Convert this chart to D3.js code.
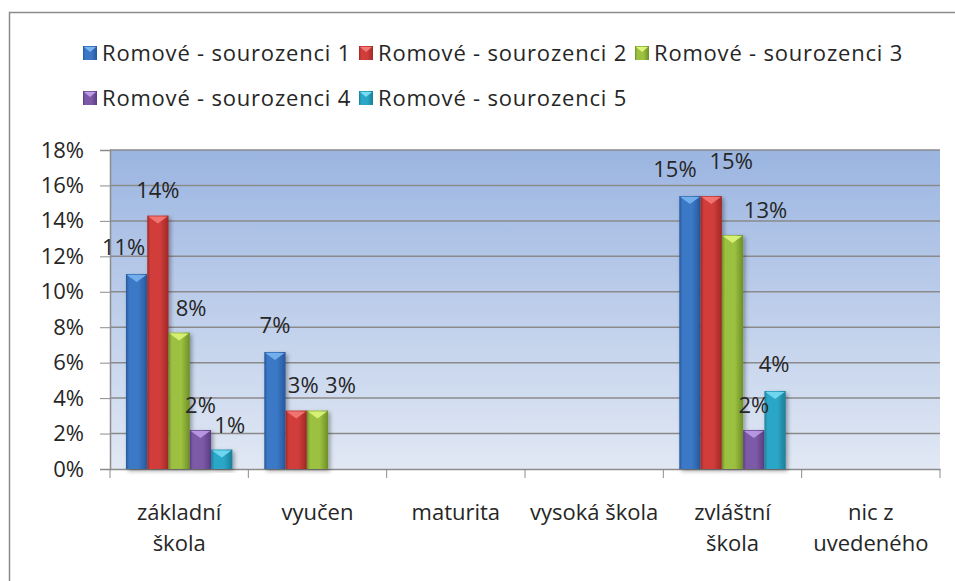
<!DOCTYPE html>
<html>
<head>
<meta charset="utf-8">
<script src="https://cdn.jsdelivr.net/npm/d3@7"></script>
<style>
  body { margin: 0; background: #fff; }
  svg { display: block; }
  text { font-family: "Open Sans", Lato, sans-serif; fill: #262626; }
</style>
</head>
<body>
<div id="chart"></div>
<script>
// categories and series (values in %)
const categories = ['základní škola', 'vyučen', 'maturita', 'vysoká škola', 'zvláštní škola', 'nic z uvedeného'];
const categoryLines = [['základní', 'škola'], ['vyučen'], ['maturita'], ['vysoká škola'], ['zvláštní', 'škola'], ['nic z', 'uvedeného']];
const seriesNames = ['Romové - sourozenci 1', 'Romové - sourozenci 2', 'Romové - sourozenci 3', 'Romové - sourozenci 4', 'Romové - sourozenci 5'];
const sourozenci1 = [11.0, 6.6, null, null, 15.4, null];
const sourozenci2 = [14.3, 3.3, null, null, 15.4, null];
const sourozenci3 = [7.7, 3.3, null, null, 13.2, null];
const sourozenci4 = [2.2, null, null, null, 2.2, null];
const sourozenci5 = [1.1, null, null, null, 4.4, null];
const yTicks = [0, 2, 4, 6, 8, 10, 12, 14, 16, 18];

const seriesValues = [sourozenci1, sourozenci2, sourozenci3, sourozenci4, sourozenci5];

// Office-like bevel colours: base, dark edge, light highlight
const PALETTE = [
    { base: '#3a78c6', dark: '#28589a', light: '#7ab4f0' },
    { base: '#d03d3b', dark: '#a02826', light: '#f47a78' },
    { base: '#9cc13f', dark: '#6d8f28', light: '#dcf57a' },
    { base: '#7d5aa8', dark: '#5a3d82', light: '#bd9ce6' },
    { base: '#2ba7c7', dark: '#1c7e98', light: '#78dcf2' }
];

// hand-placed data labels in the original (px nudges from bar-top centre)
const labelNudge = {
    '0|0': [-13, -19], '0|1': [0, -18], '0|2': [12, -17], '0|3': [0, -17], '0|4': [8, -17],
    '1|0': [0, -19], '1|1': [7, -18], '1|2': [23, -18],
    '4|0': [-15, -19], '4|1': [20, -27], '4|2': [33, -17], '4|3': [0, -17], '4|4': [-1, -19]
};

const W = 955, H = 581;
const FONT = '22px';
const plot = { left: 110, right: 940, top: 150, bottom: 469 };

const svg = d3.select('#chart').append('svg').attr('width', W).attr('height', H);
const defs = svg.append('defs');

const bg = defs.append('linearGradient').attr('id', 'plotBg')
    .attr('x1', 0).attr('y1', 0).attr('x2', 0).attr('y2', 1);
bg.append('stop').attr('offset', 0).attr('stop-color', '#9bb5e1');
bg.append('stop').attr('offset', 1).attr('stop-color', '#e1e8f4');

PALETTE.forEach((c, i) => {
    const g = defs.append('linearGradient').attr('id', 'bar' + i)
        .attr('x1', 0).attr('y1', 0).attr('x2', 1).attr('y2', 0);
    g.append('stop').attr('offset', 0).attr('stop-color', c.dark);
    g.append('stop').attr('offset', 0.15).attr('stop-color', c.base);
    g.append('stop').attr('offset', 0.6).attr('stop-color', c.base);
    g.append('stop').attr('offset', 1).attr('stop-color', c.dark);
});

const shadow = defs.append('filter').attr('id', 'shadow')
    .attr('x', '-30%').attr('y', '-10%').attr('width', '160%').attr('height', '130%');
shadow.append('feDropShadow').attr('dx', 2).attr('dy', 2).attr('stdDeviation', 2)
    .attr('flood-color', '#000').attr('flood-opacity', 0.35);

// outer chart frame
svg.append('rect')
    .attr('x', 9.5).attr('y', 12.5).attr('width', 980).attr('height', 620)
    .attr('fill', 'none').attr('stroke', '#8c8c8c').attr('stroke-width', 1.5);

// scales
const x0 = d3.scaleBand().domain(categories).range([plot.left, plot.right]).padding(0);
const gap = x0.bandwidth() * 1.5 / 6.5;
const x1 = d3.scaleBand().domain(d3.range(seriesNames.length))
    .range([gap / 2, x0.bandwidth() - gap / 2]).padding(0);
const y = d3.scaleLinear().domain([0, 18]).range([plot.bottom, plot.top]);

// plot area background
svg.append('rect')
    .attr('x', plot.left).attr('y', plot.top)
    .attr('width', plot.right - plot.left).attr('height', plot.bottom - plot.top)
    .attr('fill', 'url(#plotBg)');

// gridlines
svg.append('g').selectAll('line').data(yTicks.filter(d => d > 0)).join('line')
    .attr('x1', plot.left).attr('x2', plot.right)
    .attr('y1', d => y(d)).attr('y2', d => y(d))
    .attr('stroke', '#8a8a8a').attr('stroke-width', 1.5);

// y axis
const yAxis = svg.append('g').attr('transform', `translate(${plot.left},0)`)
    .call(d3.axisLeft(y).tickValues(yTicks).tickSize(10).tickPadding(16).tickFormat(d => d + '%'));
yAxis.attr('font-family', null);
yAxis.selectAll('text').style('font-size', FONT).attr('fill', '#262626');

// x axis: ticks at category boundaries
const xAxis = svg.append('g').attr('transform', `translate(0,${plot.bottom})`)
    .call(d3.axisBottom(x0).tickSize(0).tickFormat(''));
xAxis.selectAll('.tick').remove();
xAxis.selectAll('line.bound').data(d3.range(categories.length + 1)).join('line')
    .attr('class', 'bound')
    .attr('x1', i => plot.left + i * x0.step()).attr('x2', i => plot.left + i * x0.step())
    .attr('y1', 0).attr('y2', 9)
    .attr('stroke', '#8c8c8c');

svg.selectAll('.domain').attr('stroke', '#8c8c8c').attr('stroke-width', 1.5);
svg.selectAll('.tick line').attr('stroke', '#8c8c8c');

// category labels
const catLabels = svg.append('g').selectAll('text').data(categories).join('text')
    .attr('x', d => x0(d) + x0.bandwidth() / 2)
    .attr('y', 520)
    .attr('text-anchor', 'middle')
    .style('font-size', FONT);
catLabels.selectAll('tspan').data((d, i) => categoryLines[i]).join('tspan')
    .attr('x', function () { return this.parentNode.getAttribute('x'); })
    .attr('dy', (d, i) => i === 0 ? 0 : 31)
    .text(d => d);

// bars
const barData = [];
seriesValues.forEach((vals, s) => {
    vals.forEach((v, c) => {
        if (v !== null) barData.push({ s, c, v });
    });
});

const bars = svg.append('g').selectAll('g').data(barData).join('g')
    .attr('transform', d => `translate(${x0(categories[d.c]) + x1(d.s)},0)`);

bars.append('rect')
    .attr('y', d => y(d.v))
    .attr('width', x1.bandwidth())
    .attr('height', d => y(0) - y(d.v))
    .attr('fill', d => `url(#bar${d.s})`)
    .attr('filter', 'url(#shadow)');

bars.append('path')
    .attr('d', d => {
        const w = x1.bandwidth(), t = y(d.v);
        return `M1,${t + 1}L${w - 1},${t + 1}L${w / 2},${t + 8}Z`;
    })
    .attr('fill', d => PALETTE[d.s].light)
    .attr('opacity', 0.9);

// data labels
svg.append('g').selectAll('text').data(barData).join('text')
    .attr('x', d => x0(categories[d.c]) + x1(d.s) + x1.bandwidth() / 2 + (labelNudge[d.c + '|' + d.s] || [0, -18])[0])
    .attr('y', d => y(d.v) + (labelNudge[d.c + '|' + d.s] || [0, -18])[1])
    .attr('text-anchor', 'middle')
    .style('font-size', FONT)
    .text(d => Math.round(d.v) + '%');

// legend, 3 items per row
const legend = svg.append('g').selectAll('g').data(seriesNames).join('g')
    .attr('transform', (d, i) => `translate(${83 + (i % 3) * 276},${i < 3 ? 53 : 98})`);

legend.append('rect')
    .attr('x', 0).attr('y', -7).attr('width', 14).attr('height', 14)
    .attr('fill', (d, i) => `url(#bar${i})`);
legend.append('path')
    .attr('d', 'M1,-6L13,-6L7,-1Z')
    .attr('fill', (d, i) => PALETTE[i].light);
legend.append('text')
    .attr('x', 19).attr('y', 0).attr('dy', '0.35em')
    .style('font-size', FONT)
    .style('letter-spacing', '0.8px')
    .text(d => d);
</script>
</body>
</html>
